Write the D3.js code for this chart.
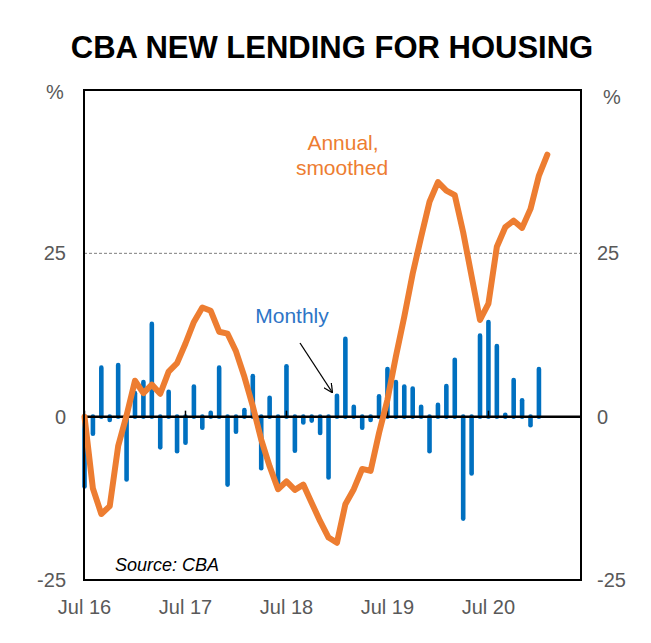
<!DOCTYPE html>
<html>
<head>
<meta charset="utf-8">
<script src="https://cdn.jsdelivr.net/npm/d3@7/dist/d3.min.js"></script>
<style>
  html, body { margin: 0; padding: 0; background: #fff; }
  svg { display: block; }
  text { font-family: "Liberation Sans", Arial, sans-serif; }
</style>
</head>
<body>
<svg id="chart" width="651" height="643"></svg>
<script>
// Month labels, Jul 2016 onward
const months = (() => {
  const names = ["Jul","Aug","Sep","Oct","Nov","Dec","Jan","Feb","Mar","Apr","May","Jun"];
  const out = [];
  for (let i = 0; i < 56; i++) {
    const yr = 16 + Math.floor((i + 6) / 12);
    out.push(names[i % 12] + " " + yr);
  }
  return out;
})();

// Monthly growth (%), Jul 16 .. Jan 21
const monthly = [
  -10.7, -2.6, 7.5, -0.5, 7.9, -9.6, 3.6, 5.3, 14.2, -4.7, 3.8, -5.3,
  -4.0, 4.6, -1.7, 0.6, 7.5, -10.4, -2.3, 1.0, 6.2, -7.9, 2.9, -10.5,
  7.7, -5.2, -0.9, -0.6, -2.5, -9.3, 3.2, 11.9, 1.5, -1.7, -0.5, 3.1,
  7.3, 5.3, 4.6, 4.3, 1.5, -5.3, 1.8, 4.7, 8.7, -15.6, -8.7, 12.4,
  14.5, 10.8, 0.3, 5.6, 2.5, -1.3, 7.3
];

// Annual, smoothed (%), Jul 16 .. Feb 21
const annual = [
  0.0, -11.0, -14.9, -13.7, -4.5, 0.2, 5.5, 3.6, 4.9, 3.5, 6.9, 8.2,
  11.2, 14.5, 16.7, 16.2, 13.0, 12.7, 10.0, 6.1, 1.6, -3.5, -7.6, -11.1,
  -9.9, -11.2, -10.4, -13.2, -16.0, -18.5, -19.3, -13.4, -11.1, -8.0, -8.3, -2.5,
  2.6, 9.2, 15.3, 21.9, 27.5, 32.9, 35.9, 34.6, 33.9, 28.2, 21.5, 14.8,
  17.3, 26.0, 29.0, 30.0, 28.9, 31.8, 36.9, 40.1
];

const xTickIndex = [0, 12, 24, 36, 48];
const xTickLabels = ["Jul 16", "Jul 17", "Jul 18", "Jul 19", "Jul 20"];
const yTicks = [-25, 0, 25];

const title = "CBA NEW LENDING FOR HOUSING";

const svg = d3.select("#chart");
const L = 84, R = 581, T = 90, B = 580;

const x = d3.scaleLinear().domain([0, 59]).range([L + 0.5, R]);
const y = d3.scaleLinear().domain([-25, 50]).range([B, T]);

// Title
svg.append("text")
  .attr("x", 332).attr("y", 58)
  .attr("text-anchor", "middle")
  .attr("font-size", 31).attr("font-weight", "bold")
  .attr("fill", "#000")
  .text(title);

// Dashed 25 line
svg.append("line")
  .attr("x1", L).attr("x2", R)
  .attr("y1", y(25)).attr("y2", y(25))
  .attr("stroke", "#7f7f7f").attr("stroke-width", 1)
  .attr("stroke-dasharray", "3,2");

// Bars
svg.append("g").selectAll("line")
  .data(monthly)
  .join("line")
  .attr("x1", (d, i) => x(i)).attr("x2", (d, i) => x(i))
  .attr("y1", y(0)).attr("y2", d => y(d))
  .attr("stroke", "#0070C0")
  .attr("stroke-width", 4.6)
  .attr("stroke-linecap", "round");

// Zero line
svg.append("line")
  .attr("x1", L).attr("x2", R)
  .attr("y1", y(0)).attr("y2", y(0))
  .attr("stroke", "#000").attr("stroke-width", 2.5);

// Ticks on zero line
svg.append("g").selectAll("line")
  .data(xTickIndex)
  .join("line")
  .attr("x1", d => x(d)).attr("x2", d => x(d))
  .attr("y1", y(0)).attr("y2", y(0) - 6)
  .attr("stroke", "#000").attr("stroke-width", 1.5);

// Annual line
svg.append("path")
  .datum(annual)
  .attr("d", d3.line().x((d, i) => x(i)).y(d => y(d)))
  .attr("fill", "none")
  .attr("stroke", "#ED7D31")
  .attr("stroke-width", 6)
  .attr("stroke-linejoin", "round")
  .attr("stroke-linecap", "round");

// Frame
svg.append("rect")
  .attr("x", L).attr("y", T)
  .attr("width", R - L).attr("height", B - T)
  .attr("fill", "none").attr("stroke", "#000").attr("stroke-width", 2);

// Y axis labels left & right
const axisColor = "#595959";
svg.append("g").selectAll("text")
  .data(yTicks)
  .join("text")
  .attr("x", 66).attr("y", d => y(d) + 7)
  .attr("text-anchor", "end")
  .attr("font-size", 20).attr("fill", axisColor)
  .text(d => d);
svg.append("g").selectAll("text")
  .data(yTicks)
  .join("text")
  .attr("x", 597).attr("y", d => y(d) + 7)
  .attr("text-anchor", "start")
  .attr("font-size", 20).attr("fill", axisColor)
  .text(d => d);

svg.append("text").attr("x", 55).attr("y", 99)
  .attr("text-anchor", "middle").attr("font-size", 20).attr("fill", axisColor).text("%");
svg.append("text").attr("x", 612).attr("y", 104)
  .attr("text-anchor", "middle").attr("font-size", 20).attr("fill", axisColor).text("%");

// X labels
svg.append("g").selectAll("text")
  .data(xTickIndex)
  .join("text")
  .attr("x", d => x(d)).attr("y", 614)
  .attr("text-anchor", "middle")
  .attr("font-size", 20).attr("fill", axisColor)
  .text((d, i) => xTickLabels[i]);

// Annotations
svg.append("text").attr("x", 343).attr("y", 150)
  .attr("text-anchor", "middle").attr("font-size", 21).attr("fill", "#ED7D31").text("Annual,");
svg.append("text").attr("x", 342).attr("y", 175)
  .attr("text-anchor", "middle").attr("font-size", 21).attr("fill", "#ED7D31").text("smoothed");
svg.append("text").attr("x", 292).attr("y", 323)
  .attr("text-anchor", "middle").attr("font-size", 21).attr("fill", "#2E75C6").text("Monthly");

// Arrow
svg.append("defs").append("marker")
  .attr("id", "arrow")
  .attr("viewBox", "0 0 10 10")
  .attr("refX", 9).attr("refY", 5)
  .attr("markerWidth", 9).attr("markerHeight", 9)
  .attr("markerUnits", "userSpaceOnUse")
  .attr("orient", "auto")
  .append("path")
  .attr("d", "M0,0 L10,5 L0,10")
  .attr("fill", "none").attr("stroke", "#000").attr("stroke-width", 1.4);
svg.append("line")
  .attr("x1", 300).attr("y1", 343)
  .attr("x2", 332).attr("y2", 392)
  .attr("stroke", "#000").attr("stroke-width", 1.3)
  .attr("marker-end", "url(#arrow)");

svg.append("text").attr("x", 115).attr("y", 571)
  .attr("font-size", 18).attr("font-style", "italic").attr("fill", "#000").text("Source: CBA");
</script>
</body>
</html>
